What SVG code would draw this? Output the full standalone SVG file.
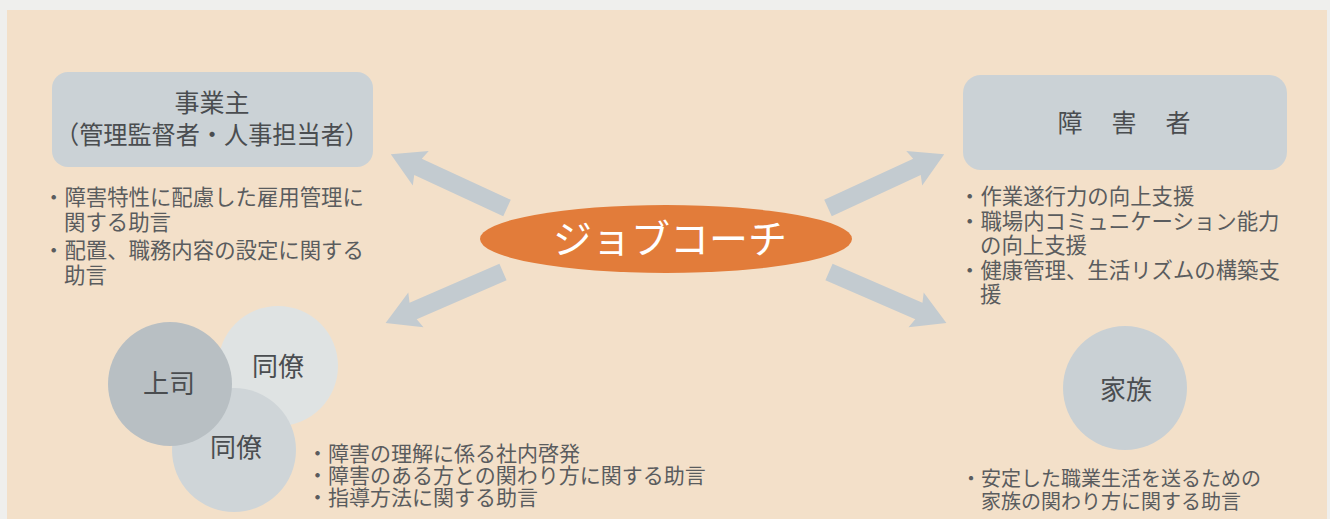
<svg xmlns="http://www.w3.org/2000/svg" xmlns:xlink="http://www.w3.org/1999/xlink" width="1330" height="519" viewBox="0 0 1330 519">
<style>
text{font-family:"Noto Sans CJK JP","Noto Sans",sans-serif;}
.box{fill:#cbd2d6;}
.title{font-size:25px;fill:#4a4d50;text-anchor:middle;}
.bul{font-size:21.4px;fill:#5a5c5e;}
.circ{font-size:26px;fill:#4a4d50;text-anchor:middle;}
.arr{fill:#c3cbd0;}
</style>
<defs>
<path id="arrow" d="M0,-9 L98,-9 L95,-19 L128,0 L95,19 L98,9 L0,9 Z"/>
</defs>
<rect x="0" y="0" width="1330" height="519" fill="#efefed"/>
<rect x="7" y="10" width="1320" height="509" fill="#f3e0c9"/>

<g id="connectors" class="arr">
<use xlink:href="#arrow" transform="translate(507,208) rotate(204.8)"/>
<use xlink:href="#arrow" transform="translate(828,208) rotate(-24.8)"/>
<use xlink:href="#arrow" transform="translate(503,272) rotate(156.5)"/>
<use xlink:href="#arrow" transform="translate(829,272) rotate(23.5)"/>
</g>

<g id="jobcoach">
<ellipse cx="666" cy="239" rx="186" ry="34" fill="#e27c3a"/>
<text x="670" y="253" font-size="39" fill="#ffffff" text-anchor="middle">ジョブコーチ</text>
</g>

<g id="employer">
<rect class="box" x="52" y="72" width="321" height="95" rx="16"/>
<text class="title" x="212" y="112">事業主</text>
<text class="title" x="212" y="144" textLength="314" lengthAdjust="spacingAndGlyphs">（管理監督者・人事担当者）</text>
<text class="bul"><tspan x="43" y="205">・障害特性に配慮した雇用管理に</tspan><tspan x="64" y="230">関する助言</tspan><tspan x="43" y="258">・配置、職務内容の設定に関する</tspan><tspan x="64" y="283">助言</tspan></text>
</g>

<g id="disabled">
<rect class="box" x="963" y="75" width="324" height="95" rx="18"/>
<text class="title" x="1125" y="132" style="letter-spacing:2px">障　害　者</text>
<text class="bul"><tspan x="959" y="204">・作業遂行力の向上支援</tspan><tspan x="959" y="229">・職場内コミュニケーション能力</tspan><tspan x="980" y="253">の向上支援</tspan><tspan x="959" y="278">・健康管理、生活リズムの構築支</tspan><tspan x="980" y="302">援</tspan></text>
</g>

<g id="colleague1">
<circle cx="278" cy="366" r="60" fill="#dfe3e3"/>
<text class="circ" x="278" y="376">同僚</text>
</g>
<g id="colleague2">
<circle cx="234" cy="450" r="62" fill="#cfd5d8"/>
<text class="circ" x="236" y="457">同僚</text>
</g>
<g id="boss">
<circle cx="170" cy="384" r="62" fill="#b8bfc3"/>
<text class="circ" x="169" y="393">上司</text>
</g>
<g id="colleague-notes">
<text class="bul" style="font-size:21px"><tspan x="307" y="461">・障害の理解に係る社内啓発</tspan><tspan x="307" y="483">・障害のある方との関わり方に関する助言</tspan><tspan x="307" y="505">・指導方法に関する助言</tspan></text>
</g>

<g id="family">
<circle cx="1125" cy="388" r="62" fill="#c9d0d4"/>
<text class="circ" x="1126" y="399">家族</text>
<text class="bul" style="font-size:20px"><tspan x="961" y="486">・安定した職業生活を送るための</tspan><tspan x="981" y="509">家族の関わり方に関する助言</tspan></text>
</g>
</svg>
